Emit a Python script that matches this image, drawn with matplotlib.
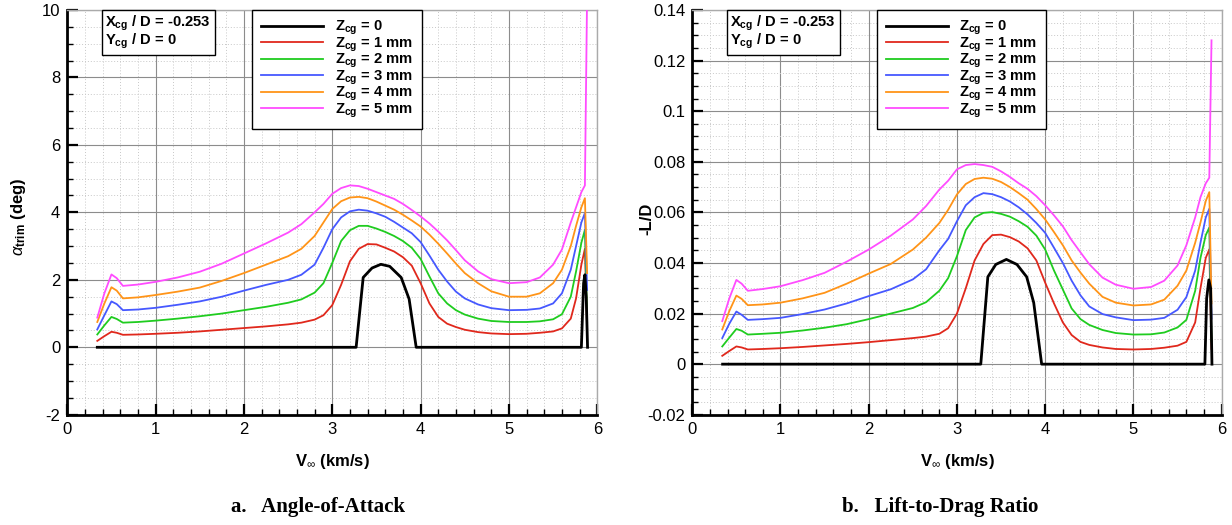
import matplotlib
matplotlib.use("Agg")
import matplotlib.pyplot as plt
from matplotlib.ticker import MultipleLocator, FormatStrFormatter

plt.rcParams['font.family'] = ['Liberation Sans', 'DejaVu Sans']
plt.rcParams['mathtext.fontset'] = 'custom'
plt.rcParams['mathtext.rm'] = 'Liberation Sans'
plt.rcParams['mathtext.it'] = 'Liberation Sans:italic'
plt.rcParams['mathtext.bf'] = 'Liberation Sans:bold'

# --- freestream velocity grid shared by the offset-cg curves (km/s) ---
v_grid = [0.34, 0.42, 0.50, 0.56, 0.63, 0.80, 1.0, 1.25, 1.5, 1.75, 2.0, 2.25,
          2.5, 2.65, 2.8, 2.9, 3.0, 3.1, 3.2, 3.3, 3.4, 3.5, 3.6, 3.7, 3.8, 3.9,
          4.0, 4.1, 4.2, 4.3, 4.4, 4.5, 4.65, 4.8, 5.0, 5.2, 5.35, 5.5, 5.6, 5.7,
          5.76, 5.82, 5.86, 5.885]

# --- trim angle of attack (deg) ---
v_z0 = [0.34, 3.27, 3.35, 3.45, 3.55, 3.65, 3.78, 3.87, 3.95, 5.82, 5.845, 5.86, 5.875, 5.89]
alpha_z0 = [0, 0, 2.07, 2.35, 2.46, 2.40, 2.07, 1.43, 0, 0, 1.9, 2.15, 1.5, 0]
alpha_z1 = [0.19, 0.33, 0.46, 0.43, 0.37, 0.38, 0.40, 0.43, 0.47, 0.52, 0.57, 0.62,
            0.68, 0.73, 0.82, 0.95, 1.25, 1.85, 2.55, 2.92, 3.06, 3.05, 2.95, 2.84,
            2.67, 2.42, 1.90, 1.30, 0.90, 0.70, 0.60, 0.52, 0.45, 0.41, 0.39, 0.40,
            0.43, 0.47, 0.56, 0.85, 1.45, 2.45, 2.92, 0.55]
alpha_z2 = [0.38, 0.65, 0.90, 0.84, 0.73, 0.75, 0.79, 0.85, 0.92, 1.00, 1.10, 1.20,
            1.32, 1.42, 1.62, 1.90, 2.50, 3.15, 3.47, 3.60, 3.60, 3.52, 3.42, 3.30,
            3.15, 2.95, 2.62, 2.10, 1.60, 1.30, 1.10, 0.97, 0.85, 0.78, 0.75, 0.75,
            0.77, 0.83, 0.98, 1.50, 2.25, 3.10, 3.48, 0.75]
alpha_z3 = [0.53, 0.95, 1.36, 1.28, 1.10, 1.12, 1.17, 1.26, 1.36, 1.50, 1.68, 1.85,
            2.00, 2.15, 2.45, 2.95, 3.50, 3.85, 4.03, 4.08, 4.05, 3.97, 3.87, 3.72,
            3.55, 3.38, 3.12, 2.72, 2.30, 1.95, 1.65, 1.45, 1.27, 1.16, 1.10, 1.11,
            1.15, 1.30, 1.60, 2.30, 3.00, 3.70, 3.98, 1.70]
alpha_z4 = [0.75, 1.30, 1.78, 1.68, 1.45, 1.48, 1.55, 1.65, 1.77, 1.97, 2.20, 2.45,
            2.70, 2.92, 3.30, 3.70, 4.10, 4.33, 4.44, 4.46, 4.42, 4.32, 4.20, 4.08,
            3.93, 3.76, 3.58, 3.34, 3.07, 2.78, 2.48, 2.20, 1.90, 1.66, 1.50, 1.50,
            1.60, 1.90, 2.30, 3.00, 3.60, 4.15, 4.42, 2.20]
alpha_z5 = [0.88, 1.60, 2.16, 2.05, 1.82, 1.86, 1.94, 2.07, 2.24, 2.48, 2.78, 3.08,
            3.40, 3.65, 4.00, 4.25, 4.55, 4.72, 4.80, 4.78, 4.70, 4.60, 4.50, 4.40,
            4.25, 4.07, 3.88, 3.67, 3.43, 3.17, 2.88, 2.58, 2.25, 2.02, 1.90, 1.93,
            2.07, 2.45, 2.90, 3.70, 4.15, 4.60, 4.80, 10.5]

# --- lift-to-drag ratio (-L/D) ---
v_z0_ld = [0.344, 3.27, 3.35, 3.44, 3.56, 3.68, 3.79, 3.87, 3.96, 5.81, 5.83, 5.855, 5.875, 5.89]
ld_z0 = [0, 0, 0.0345, 0.0394, 0.0414, 0.0394, 0.0345, 0.0243, 0, 0, 0.026, 0.0333, 0.030, 0]
ld_z1 = [0.0033, 0.0052, 0.0070, 0.0066, 0.0058, 0.0060, 0.0063, 0.0068, 0.0074, 0.0080,
         0.0087, 0.0095, 0.0103, 0.0109, 0.0120, 0.0142, 0.0200, 0.0300, 0.0410, 0.0475,
         0.0510, 0.0512, 0.0502, 0.0485, 0.0458, 0.0410, 0.0322, 0.0240, 0.0165, 0.0115,
         0.0088, 0.0076, 0.0066, 0.0060, 0.0058, 0.0060, 0.0065, 0.0073, 0.0088, 0.0165,
         0.0300, 0.0420, 0.0454, 0.0060]
ld_z2 = [0.0070, 0.0105, 0.0139, 0.0132, 0.0117, 0.0120, 0.0124, 0.0133, 0.0144, 0.0158,
         0.0178, 0.0200, 0.0222, 0.0245, 0.0290, 0.0340, 0.0427, 0.0530, 0.0580, 0.0598,
         0.0601, 0.0594, 0.0583, 0.0565, 0.0543, 0.0508, 0.0453, 0.0370, 0.0295, 0.0220,
         0.0178, 0.0155, 0.0135, 0.0123, 0.0117, 0.0118, 0.0125, 0.0145, 0.0175, 0.0290,
         0.0420, 0.0510, 0.0540, 0.0090]
ld_z3 = [0.0103, 0.0160, 0.0208, 0.0195, 0.0175, 0.0178, 0.0183, 0.0198, 0.0216, 0.0240,
         0.0269, 0.0296, 0.0335, 0.0375, 0.0450, 0.0495, 0.0565, 0.0628, 0.0660, 0.0676,
         0.0672, 0.0660, 0.0643, 0.0620, 0.0592, 0.0558, 0.0519, 0.0460, 0.0400, 0.0330,
         0.0272, 0.0228, 0.0198, 0.0185, 0.0174, 0.0176, 0.0183, 0.0215, 0.0265, 0.0370,
         0.0480, 0.0580, 0.0614, 0.0180]
ld_z4 = [0.0137, 0.0210, 0.0271, 0.0258, 0.0233, 0.0236, 0.0243, 0.0260, 0.0282, 0.0318,
         0.0358, 0.0396, 0.0453, 0.0500, 0.0558, 0.0610, 0.0671, 0.0712, 0.0732, 0.0737,
         0.0733, 0.0720, 0.0700, 0.0676, 0.0650, 0.0613, 0.0572, 0.0522, 0.0470, 0.0410,
         0.0362, 0.0318, 0.0266, 0.0243, 0.0232, 0.0236, 0.0255, 0.0310, 0.0370, 0.0480,
         0.0560, 0.0645, 0.0680, 0.0240]
ld_z5 = [0.0170, 0.0260, 0.0333, 0.0318, 0.0290, 0.0297, 0.0308, 0.0332, 0.0361, 0.0405,
         0.0453, 0.0508, 0.0572, 0.0625, 0.0690, 0.0725, 0.0770, 0.0787, 0.0791, 0.0787,
         0.0780, 0.0762, 0.0740, 0.0715, 0.0693, 0.0664, 0.0628, 0.0588, 0.0545, 0.0490,
         0.0442, 0.0395, 0.0342, 0.0314, 0.0298, 0.0305, 0.0330, 0.0390, 0.0470, 0.0580,
         0.0660, 0.0715, 0.0737, 0.1280]

labels = [r'Z$_{\mathbf{cg}}$ = 0', r'Z$_{\mathbf{cg}}$ = 1 mm', r'Z$_{\mathbf{cg}}$ = 2 mm',
          r'Z$_{\mathbf{cg}}$ = 3 mm', r'Z$_{\mathbf{cg}}$ = 4 mm', r'Z$_{\mathbf{cg}}$ = 5 mm']
colors = ['black', '#e0281c', '#1fcc1f', '#4658ff', '#ff9418', '#ff4cff']
cg_note = r'X$_{\mathbf{cg}}$ / D = -0.253' + '\n' + r'Y$_{\mathbf{cg}}$ / D = 0'


def style_axes(ax, ymin, ymax, ymajor, yminor, yfmt):
    ax.set_xlim(0, 6)
    ax.set_ylim(ymin, ymax)
    ax.xaxis.set_major_locator(MultipleLocator(1))
    ax.xaxis.set_minor_locator(MultipleLocator(0.2))
    ax.yaxis.set_major_locator(MultipleLocator(ymajor))
    ax.yaxis.set_minor_locator(MultipleLocator(yminor))
    ax.yaxis.set_major_formatter(FormatStrFormatter(yfmt))
    ax.xaxis.set_major_formatter(FormatStrFormatter('%g'))
    ax.grid(which='major', color='#8c8c8c', lw=0.8)
    ax.grid(which='minor', color='#c8c8c8', lw=0.7, ls=(0, (1, 2)))
    ax.set_axisbelow(True)
    ax.tick_params(which='major', direction='in', length=8, width=1.6, labelsize=12, pad=5)
    ax.tick_params(which='minor', direction='in', length=4, width=1.0)
    for side in ['left', 'bottom']:
        ax.spines[side].set_linewidth(2.0)
        ax.spines[side].set_color('black')
    for side in ['top', 'right']:
        ax.spines[side].set_linewidth(1.0)
        ax.spines[side].set_color('#aaaaaa')
    ax.set_xlabel(r'V$_{\infty}$ (km/s)', fontsize=12, fontweight='bold', labelpad=11)


def draw_panel(ax, v0, y0, curves):
    ax.plot(v0, y0, color=colors[0], lw=2.0, label=labels[0], zorder=5)
    for i, ys in enumerate(curves):
        ax.plot(v_grid, ys, color=colors[i + 1], lw=1.3, label=labels[i + 1], zorder=4)
    leg = ax.legend(loc='upper left', bbox_to_anchor=(0.349, 1.0), fancybox=False,
                    framealpha=1, edgecolor='black', handlelength=4.2, handletextpad=0.8,
                    labelspacing=-0.12, borderpad=0.6, borderaxespad=0,
                    prop={'size': 10.6, 'weight': 'bold'})
    leg.get_frame().set_linewidth(1.0)
    leg.set_zorder(10)
    ax.text(0.072, 0.99, cg_note, transform=ax.transAxes, ha='left', va='top',
            fontsize=10.6, fontweight='bold', linespacing=0.9, zorder=10,
            bbox=dict(boxstyle='square,pad=0.25', fc='white', ec='black', lw=1.0))


fig = plt.figure(figsize=(12.32, 5.25), dpi=100)
ax1 = fig.add_axes([0.0546, 0.210, 0.4302, 0.771])
ax2 = fig.add_axes([0.5619, 0.210, 0.4297, 0.771])

style_axes(ax1, -2, 10, 2, 0.5, '%g')
draw_panel(ax1, v_z0, alpha_z0, [alpha_z1, alpha_z2, alpha_z3, alpha_z4, alpha_z5])
ax1.set_ylabel(r'$\alpha_{\mathbf{trim}}$ (deg)', fontsize=12, fontweight='bold')
ax1.yaxis.set_label_coords(-0.074, 0.49)

style_axes(ax2, -0.02, 0.14, 0.02, 0.005, '%g')
draw_panel(ax2, v_z0_ld, ld_z0, [ld_z1, ld_z2, ld_z3, ld_z4, ld_z5])
ax2.set_ylabel('-L/D', fontsize=12, fontweight='bold')
ax2.yaxis.set_label_coords(-0.072, 0.485)

fig.text(318 / 1232, 1 - 507 / 525, 'a.   Angle-of-Attack', ha='center', va='center',
         family='Liberation Serif', fontweight='bold', fontsize=15)
fig.text(940 / 1232, 1 - 507 / 525, 'b.   Lift-to-Drag Ratio', ha='center', va='center',
         family='Liberation Serif', fontweight='bold', fontsize=15)

fig.savefig('out.png', dpi=100, facecolor='white')
